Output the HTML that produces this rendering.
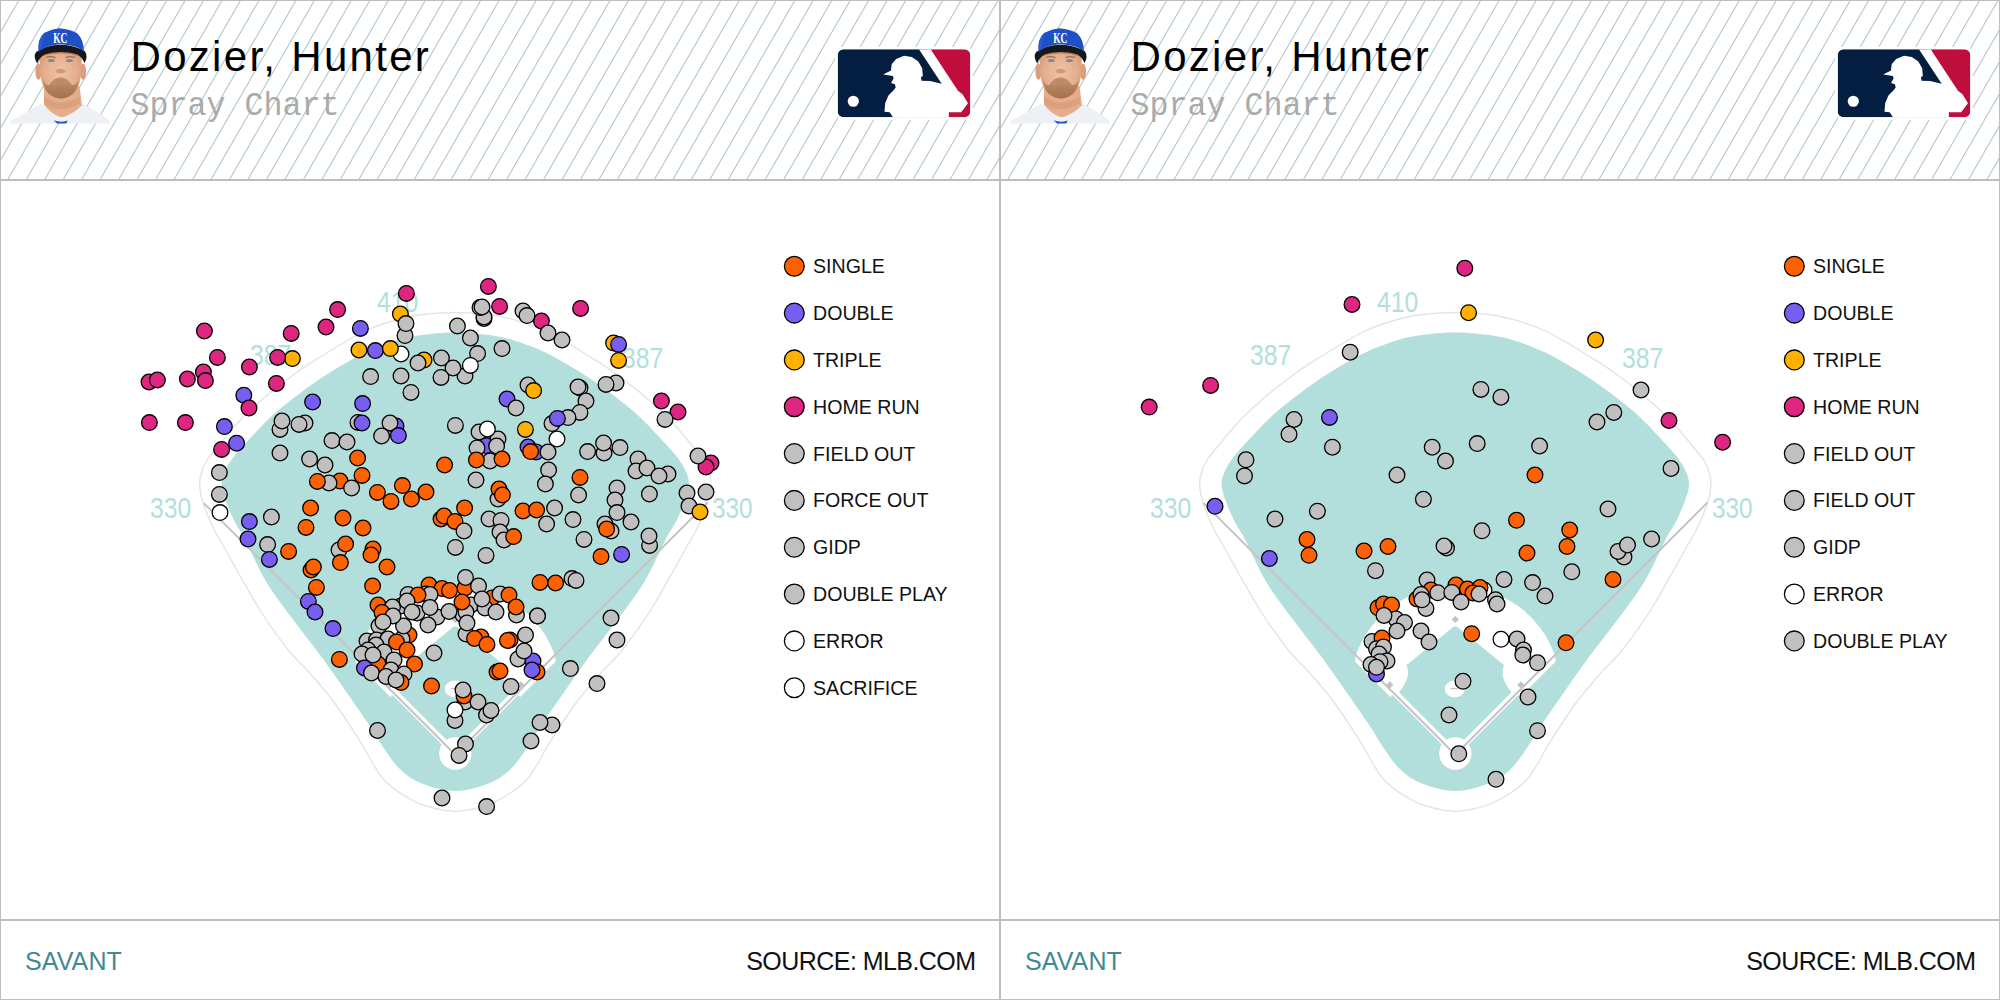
<!DOCTYPE html>
<html><head><meta charset="utf-8"><title>Spray Chart</title>
<style>
html,body{margin:0;padding:0;background:#fff;}
body{width:2000px;height:1000px;position:relative;overflow:hidden;font-family:"Liberation Sans",sans-serif;}
.panel{position:absolute;top:0;width:1000px;height:1000px;box-sizing:border-box;border:1px solid #bdbdbd;border-right-width:1px;background:#fff;overflow:hidden;}
.panel:after{content:"";position:absolute;left:-1px;top:918px;width:1000px;height:2px;background:#bdbdbd;}
.ov{position:absolute;left:-1px;top:-1px;}
.ttl{font-family:"Liberation Sans",sans-serif;font-size:42px;letter-spacing:2.3px;fill:#000;}
.sub{font-family:"Liberation Mono",monospace;font-size:33px;fill:#aaa;}
.dl{font-family:"Liberation Sans",sans-serif;font-size:30px;fill:#b2dfdb;}
.lg{font-family:"Liberation Sans",sans-serif;font-size:19.6px;fill:#111;}
.sav{font-family:"Liberation Sans",sans-serif;font-size:25px;fill:#3f8a93;letter-spacing:0.1px;}
.src{font-family:"Liberation Sans",sans-serif;font-size:25px;fill:#111;letter-spacing:-0.55px;}
</style></head><body>
<div class="panel" style="left:0px">
<svg class="ov" width="1000" height="1000" viewBox="0 0 1000 1000">
<defs><pattern id="hp0" width="16" height="16" patternUnits="userSpaceOnUse" patternTransform="translate(0,0) rotate(30)"><rect x="0.15" y="0" width="0.7" height="16" fill="#85aaaf"/></pattern></defs>
<rect x="0" y="0" width="1000" height="179" fill="url(#hp0)"/>
<rect x="0" y="179" width="1000" height="2" fill="#bdbdbd"/>
<g transform="translate(0,20) scale(0.11)">
<defs>
<filter id="fbl0" x="-5%" y="-5%" width="110%" height="110%"><feGaussianBlur stdDeviation="5"/></filter>
<radialGradient id="fsk0" cx="0.5" cy="0.45" r="0.6"><stop offset="0" stop-color="#f0c3a6"/><stop offset="0.7" stop-color="#e4ac8b"/><stop offset="1" stop-color="#d39875"/></radialGradient>
<linearGradient id="fbd0" x1="0" y1="0" x2="0" y2="1"><stop offset="0" stop-color="#c29470"/><stop offset="0.5" stop-color="#a97852"/><stop offset="1" stop-color="#9a6a45"/></linearGradient>
</defs>
<path d="M92,940 L100,915 Q230,850 372,758 Q550,900 762,762 Q900,845 990,910 L1000,940 Z" fill="#eef0f6"/>
<g filter="url(#fbl0)">
<path d="M398,600 L400,770 Q470,860 560,885 Q660,860 746,775 L722,600 Z" fill="#e5ad8c"/>
<path d="M402,700 Q550,800 720,700 L728,760 Q560,860 402,765Z" fill="#d49572" opacity=".55"/>
<ellipse cx="349" cy="470" rx="27" ry="74" fill="#dd9d7d"/>
<ellipse cx="755" cy="470" rx="27" ry="74" fill="#dd9d7d"/>
<path d="M364,320 Q352,520 400,620 Q466,712 550,714 Q638,712 706,620 Q750,520 740,320 Q550,240 364,320Z" fill="url(#fsk0)"/>
<path d="M388,520 Q398,625 440,668 Q500,714 550,714 Q612,714 668,668 Q708,625 722,520 Q700,600 652,592 Q612,522 550,518 Q488,522 450,592 Q408,600 388,520Z" fill="url(#fbd0)" opacity=".85"/>
<ellipse cx="550" cy="548" rx="56" ry="15" fill="#c7826c"/>
<path d="M500,470 Q550,500 600,470 Q580,440 550,445 Q520,440 500,470Z" fill="#c98d6c" opacity=".8"/>
<ellipse cx="466" cy="368" rx="32" ry="14" fill="#7e8a98"/>
<ellipse cx="632" cy="368" rx="32" ry="14" fill="#7e8a98"/>
<path d="M420,340 Q465,325 505,342 M595,342 Q635,325 680,340" stroke="#9a6b4a" stroke-width="12" fill="none"/>
<path d="M364,335 Q550,275 740,335 L740,300 Q550,240 364,300Z" fill="#a87556" opacity=".75"/>
</g>
<path d="M488,912 Q550,938 614,914 L602,940 L518,940 Z" fill="#1d55c8"/>
<path d="M338,395 Q298,335 328,290 Q420,228 550,224 Q690,228 772,285 Q804,335 768,392 Q745,335 700,312 Q550,268 408,312 Q360,340 338,395Z" fill="#15171c"/>
<path d="M350,292 Q338,170 400,118 Q470,80 540,74 Q640,84 702,120 Q762,180 762,282 Q690,228 550,221 Q420,226 350,292 Z" fill="#1f50c6"/>
<path d="M352,260 Q345,180 400,125 Q380,200 390,262Z" fill="#2a62dc" opacity=".6"/>
<text x="548" y="206" font-family="Liberation Serif,serif" font-weight="bold" font-size="135" fill="#fff" text-anchor="middle" textLength="128" lengthAdjust="spacingAndGlyphs">KC</text>
</g>

<g transform="translate(800,20) scale(0.13)">
<rect x="270" y="205" width="1060" height="562" rx="60" fill="#fff"/>
<clipPath id="lgc0"><rect x="290" y="225" width="1020" height="523" rx="46"/></clipPath>
<g clip-path="url(#lgc0)">
<path d="M290,225H960L1200,560L1000,748H290Z" fill="#041e42"/>
<path d="M960,225H1310V748H1000L1200,560Z" fill="#bf0d3e"/>
<path d="M915,225H1005L1215,545L1250,572L1292,640L1240,710H1145V748H715L690,710L650,705L655,640L680,580L720,540L736,520L730,495L700,485L720,450L715,430L640,420L700,388L705,340L740,300L800,275L860,285L910,320L940,372L945,430L930,440L935,468L1000,470L1090,490Z" fill="#fff"/>
<circle cx="410" cy="625" r="43" fill="#fff"/>
</g>
</g>

<text x="130.5" y="71.4" class="ttl">Dozier, Hunter</text>
<text x="130.5" y="115" class="sub" textLength="209" lengthAdjust="spacingAndGlyphs">Spray Chart</text>
<path d="M455.3 312.5C467.6 312.5 481.8 313.6 492.3 315.0C502.8 316.4 509.8 318.5 518.3 321.0C526.8 323.5 535.1 326.3 543.3 330.0C551.5 333.7 559.3 338.4 567.3 343.0C575.3 347.6 583.6 352.7 591.3 357.5C599.0 362.3 604.5 365.6 613.3 372.0C622.1 378.4 634.8 388.0 644.3 396.0C653.8 404.0 663.0 412.5 670.3 420.0C677.6 427.5 682.6 434.2 688.3 441.0C694.0 447.8 700.7 455.3 704.3 461.0C707.9 466.7 708.7 470.6 709.8 475.0C710.9 479.4 711.2 482.7 710.8 487.5C710.4 492.3 709.7 496.6 707.3 503.7C704.9 510.8 699.5 523.3 696.3 530.0C693.1 536.7 695.8 530.8 688.3 544.0C680.8 557.2 662.3 591.3 651.3 609.0C640.3 626.7 630.8 639.2 622.3 650.0C613.8 660.8 608.1 664.6 600.3 673.6C592.5 682.6 583.6 692.7 575.3 704.0C567.0 715.3 558.3 729.1 550.3 741.6C542.3 754.1 535.9 769.3 527.3 779.0C518.7 788.7 507.5 795.1 498.8 800.0C490.1 804.9 482.6 806.6 475.3 808.5C468.1 810.4 462.0 811.3 455.3 811.3C448.6 811.3 442.6 810.4 435.3 808.5C428.1 806.6 420.5 804.9 411.8 800.0C403.1 795.1 391.9 788.7 383.3 779.0C374.7 769.3 368.3 754.1 360.3 741.6C352.3 729.1 343.6 715.3 335.3 704.0C327.0 692.7 318.1 682.6 310.3 673.6C302.5 664.6 296.8 660.8 288.3 650.0C279.8 639.2 270.3 626.7 259.3 609.0C248.3 591.3 229.8 557.2 222.3 544.0C214.8 530.8 217.5 536.7 214.3 530.0C211.1 523.3 205.7 510.8 203.3 503.7C200.9 496.6 200.2 492.3 199.8 487.5C199.4 482.7 199.7 479.4 200.8 475.0C201.9 470.6 202.7 466.7 206.3 461.0C209.9 455.3 216.6 447.8 222.3 441.0C228.0 434.2 233.0 427.5 240.3 420.0C247.6 412.5 256.8 404.0 266.3 396.0C275.8 388.0 288.5 378.4 297.3 372.0C306.1 365.6 311.6 362.3 319.3 357.5C327.0 352.7 335.3 347.6 343.3 343.0C351.3 338.4 359.1 333.7 367.3 330.0C375.5 326.3 383.8 323.5 392.3 321.0C400.8 318.5 407.8 316.4 418.3 315.0C428.8 313.6 443.0 312.5 455.3 312.5Z" fill="none" stroke="#e3e3e3" stroke-width="1.35"/>
<path d="M455.3 332.5C468.6 332.5 484.5 334.3 495.3 336.0C506.1 337.7 512.0 339.8 520.3 342.5C528.6 345.2 537.3 348.8 545.3 352.5C553.3 356.2 560.5 360.4 568.3 365.0C576.1 369.6 584.3 374.6 592.3 380.0C600.3 385.4 608.3 391.2 616.3 397.5C624.3 403.8 632.3 410.0 640.3 417.5C648.3 425.0 657.8 435.4 664.3 442.5C670.8 449.6 675.5 454.6 679.3 460.0C683.1 465.4 685.7 470.5 687.3 475.0C688.9 479.5 689.3 482.4 688.8 487.0C688.3 491.6 686.5 496.7 684.3 502.5C682.1 508.3 679.0 515.8 675.8 522.0C672.6 528.2 670.5 530.0 665.3 540.0C660.0 550.0 652.3 568.7 644.3 582.0C636.3 595.3 626.5 607.6 617.3 620.0C608.1 632.4 598.0 644.8 589.3 656.6C580.6 668.4 573.2 679.3 565.3 690.6C557.4 701.9 548.3 714.9 541.8 724.6C535.3 734.3 531.7 741.4 526.3 749.0C520.9 756.6 515.8 764.7 509.3 770.5C502.8 776.3 496.3 780.6 487.3 784.0C478.3 787.4 466.0 791.0 455.3 791.0C444.6 791.0 432.3 787.4 423.3 784.0C414.3 780.6 407.8 776.3 401.3 770.5C394.8 764.7 389.7 756.6 384.3 749.0C378.9 741.4 375.3 734.3 368.8 724.6C362.3 714.9 353.2 701.9 345.3 690.6C337.4 679.3 330.0 668.4 321.3 656.6C312.6 644.8 302.5 632.4 293.3 620.0C284.1 607.6 274.3 595.3 266.3 582.0C258.3 568.7 250.6 550.0 245.3 540.0C240.1 530.0 238.0 528.2 234.8 522.0C231.6 515.8 228.5 508.3 226.3 502.5C224.1 496.7 222.3 491.6 221.8 487.0C221.3 482.4 221.7 479.5 223.3 475.0C224.9 470.5 227.5 465.4 231.3 460.0C235.1 454.6 239.8 449.6 246.3 442.5C252.8 435.4 262.3 425.0 270.3 417.5C278.3 410.0 286.3 403.8 294.3 397.5C302.3 391.2 310.3 385.4 318.3 380.0C326.3 374.6 334.5 369.6 342.3 365.0C350.1 360.4 357.3 356.2 365.3 352.5C373.3 348.8 382.0 345.2 390.3 342.5C398.6 339.8 404.5 337.7 415.3 336.0C426.1 334.3 442.0 332.5 455.3 332.5Z" fill="#b2dfdb"/>
<path d="M355.7 656.0 A104.5 100.5 0 0 1 554.9 656.0L555.6 661.6L520.2 697.0L518.2 695.0L455.3 757.9L392.4 695.0L390.4 697.0L355.0 661.6Z" fill="#fff"/>
<path d="M452.3 627.7Q455.3 625.2 458.3 627.7L504.2 665.2Q498.8 677.0 511.6 692.2L464.5 739.5 L446.1 739.5L399.0 692.2Q411.8 677.0 406.4 665.2Z" fill="#b2dfdb"/>
<circle cx="455.3" cy="753.5" r="16.2" fill="#fff"/>
<ellipse cx="454.8" cy="689" rx="10" ry="8.5" fill="#fff"/>
<path d="M450.8 688.6h7" stroke="#c4c4c4" stroke-width="1.2"/>
<path d="M455.3 754.7 L203.8 503.2 M455.3 754.7 L707.6 502.4" stroke="#c4c4c4" stroke-width="2" fill="none"/>
<path d="M455.3 615.8l3.6 3.6l-3.6 3.6l-3.6 -3.6z" fill="#c4c4c4"/>
<path d="M389.8 681.2l3.6 3.6l-3.6 3.6l-3.6 -3.6z" fill="#c4c4c4"/>
<path d="M520.8 681.2l3.6 3.6l-3.6 3.6l-3.6 -3.6z" fill="#c4c4c4"/>
<text x="377.0" y="311.5" textLength="41.3" lengthAdjust="spacingAndGlyphs" class="dl">410</text>
<text x="250.0" y="364.5" textLength="41.3" lengthAdjust="spacingAndGlyphs" class="dl">387</text>
<text x="622.0" y="367.5" textLength="41.3" lengthAdjust="spacingAndGlyphs" class="dl">387</text>
<text x="150.0" y="517.5" textLength="41.3" lengthAdjust="spacingAndGlyphs" class="dl">330</text>
<text x="712.0" y="517.5" textLength="40.5" lengthAdjust="spacingAndGlyphs" class="dl">330</text>
<g stroke="#000" stroke-width="1.3"><circle cx="488.4" cy="286.4" r="7.85" fill="#DC267F"/><circle cx="406.4" cy="293.4" r="7.85" fill="#DC267F"/><circle cx="499.6" cy="306.4" r="7.85" fill="#DC267F"/><circle cx="337.6" cy="309.6" r="7.85" fill="#DC267F"/><circle cx="326.0" cy="327.0" r="7.85" fill="#DC267F"/><circle cx="291.2" cy="333.4" r="7.85" fill="#DC267F"/><circle cx="204.4" cy="331.0" r="7.85" fill="#DC267F"/><circle cx="217.4" cy="357.4" r="7.85" fill="#DC267F"/><circle cx="249.4" cy="367.0" r="7.85" fill="#DC267F"/><circle cx="203.4" cy="372.0" r="7.85" fill="#DC267F"/><circle cx="205.4" cy="380.6" r="7.85" fill="#DC267F"/><circle cx="187.4" cy="379.0" r="7.85" fill="#DC267F"/><circle cx="149.0" cy="382.0" r="7.85" fill="#DC267F"/><circle cx="157.4" cy="380.0" r="7.85" fill="#DC267F"/><circle cx="276.4" cy="383.4" r="7.85" fill="#DC267F"/><circle cx="149.4" cy="422.6" r="7.85" fill="#DC267F"/><circle cx="185.4" cy="422.6" r="7.85" fill="#DC267F"/><circle cx="221.6" cy="449.4" r="7.85" fill="#DC267F"/><circle cx="292.4" cy="358.6" r="7.85" fill="#FFB000"/><circle cx="277.6" cy="357.4" r="7.85" fill="#DC267F"/><circle cx="360.4" cy="328.4" r="7.85" fill="#785EF0"/><circle cx="375.4" cy="350.6" r="7.85" fill="#785EF0"/><circle cx="243.8" cy="395.2" r="7.85" fill="#785EF0"/><circle cx="249.0" cy="408.0" r="7.85" fill="#DC267F"/><circle cx="312.6" cy="402.0" r="7.85" fill="#785EF0"/><circle cx="362.6" cy="403.6" r="7.85" fill="#785EF0"/><circle cx="224.4" cy="426.6" r="7.85" fill="#785EF0"/><circle cx="236.6" cy="443.2" r="7.85" fill="#785EF0"/><circle cx="507.0" cy="399.0" r="7.85" fill="#785EF0"/><circle cx="358.0" cy="422.4" r="7.85" fill="#C0C0C0"/><circle cx="362.0" cy="423.0" r="7.85" fill="#785EF0"/><circle cx="396.0" cy="426.0" r="7.85" fill="#785EF0"/><circle cx="390.0" cy="423.0" r="7.85" fill="#C0C0C0"/><circle cx="381.6" cy="436.0" r="7.85" fill="#C0C0C0"/><circle cx="398.4" cy="435.6" r="7.85" fill="#785EF0"/><circle cx="400.4" cy="314.0" r="7.85" fill="#FFB000"/><circle cx="405.0" cy="335.6" r="7.85" fill="#C0C0C0"/><circle cx="406.0" cy="323.6" r="7.85" fill="#C0C0C0"/><circle cx="359.0" cy="350.0" r="7.85" fill="#FFB000"/><circle cx="401.0" cy="354.0" r="7.85" fill="#FFFFFF"/><circle cx="390.4" cy="348.6" r="7.85" fill="#FFB000"/><circle cx="424.0" cy="360.0" r="7.85" fill="#FFB000"/><circle cx="418.0" cy="363.0" r="7.85" fill="#C0C0C0"/><circle cx="484.0" cy="318.5" r="7.85" fill="#C0C0C0"/><circle cx="484.0" cy="317.0" r="7.85" fill="#C0C0C0"/><circle cx="480.0" cy="307.6" r="7.85" fill="#C0C0C0"/><circle cx="482.0" cy="307.0" r="7.85" fill="#C0C0C0"/><circle cx="457.4" cy="326.0" r="7.85" fill="#C0C0C0"/><circle cx="470.4" cy="338.0" r="7.85" fill="#C0C0C0"/><circle cx="477.6" cy="353.6" r="7.85" fill="#C0C0C0"/><circle cx="502.0" cy="348.6" r="7.85" fill="#C0C0C0"/><circle cx="441.4" cy="358.0" r="7.85" fill="#C0C0C0"/><circle cx="465.0" cy="376.0" r="7.85" fill="#C0C0C0"/><circle cx="453.0" cy="368.0" r="7.85" fill="#C0C0C0"/><circle cx="441.0" cy="377.4" r="7.85" fill="#C0C0C0"/><circle cx="401.0" cy="376.0" r="7.85" fill="#C0C0C0"/><circle cx="370.6" cy="376.6" r="7.85" fill="#C0C0C0"/><circle cx="411.0" cy="392.4" r="7.85" fill="#C0C0C0"/><circle cx="516.0" cy="408.0" r="7.85" fill="#C0C0C0"/><circle cx="470.4" cy="365.4" r="7.85" fill="#FFFFFF"/><circle cx="280.0" cy="429.4" r="7.85" fill="#C0C0C0"/><circle cx="282.0" cy="421.0" r="7.85" fill="#C0C0C0"/><circle cx="305.0" cy="423.0" r="7.85" fill="#C0C0C0"/><circle cx="299.0" cy="424.4" r="7.85" fill="#C0C0C0"/><circle cx="455.4" cy="425.4" r="7.85" fill="#C0C0C0"/><circle cx="332.0" cy="440.6" r="7.85" fill="#C0C0C0"/><circle cx="347.0" cy="442.0" r="7.85" fill="#C0C0C0"/><circle cx="280.0" cy="453.0" r="7.85" fill="#C0C0C0"/><circle cx="309.6" cy="459.0" r="7.85" fill="#C0C0C0"/><circle cx="325.0" cy="465.0" r="7.85" fill="#C0C0C0"/><circle cx="486.4" cy="445.6" r="7.85" fill="#785EF0"/><circle cx="479.0" cy="432.0" r="7.85" fill="#C0C0C0"/><circle cx="498.0" cy="439.0" r="7.85" fill="#C0C0C0"/><circle cx="487.4" cy="429.0" r="7.85" fill="#FFFFFF"/><circle cx="477.0" cy="448.0" r="7.85" fill="#C0C0C0"/><circle cx="496.6" cy="446.0" r="7.85" fill="#C0C0C0"/><circle cx="490.0" cy="461.0" r="7.85" fill="#C0C0C0"/><circle cx="476.4" cy="460.0" r="7.85" fill="#FE6100"/><circle cx="502.0" cy="459.0" r="7.85" fill="#FE6100"/><circle cx="357.6" cy="458.0" r="7.85" fill="#FE6100"/><circle cx="444.6" cy="465.0" r="7.85" fill="#FE6100"/><circle cx="580.6" cy="308.4" r="7.85" fill="#DC267F"/><circle cx="541.4" cy="321.0" r="7.85" fill="#DC267F"/><circle cx="661.4" cy="401.0" r="7.85" fill="#DC267F"/><circle cx="678.0" cy="412.0" r="7.85" fill="#DC267F"/><circle cx="711.0" cy="463.0" r="7.85" fill="#DC267F"/><circle cx="706.0" cy="467.0" r="7.85" fill="#DC267F"/><circle cx="523.0" cy="311.0" r="7.85" fill="#C0C0C0"/><circle cx="527.0" cy="315.6" r="7.85" fill="#C0C0C0"/><circle cx="548.0" cy="333.0" r="7.85" fill="#C0C0C0"/><circle cx="562.0" cy="340.0" r="7.85" fill="#C0C0C0"/><circle cx="528.0" cy="385.0" r="7.85" fill="#C0C0C0"/><circle cx="533.6" cy="390.6" r="7.85" fill="#FFB000"/><circle cx="580.0" cy="388.0" r="7.85" fill="#C0C0C0"/><circle cx="578.0" cy="387.0" r="7.85" fill="#C0C0C0"/><circle cx="586.0" cy="401.0" r="7.85" fill="#C0C0C0"/><circle cx="580.0" cy="412.4" r="7.85" fill="#C0C0C0"/><circle cx="568.0" cy="417.6" r="7.85" fill="#C0C0C0"/><circle cx="552.0" cy="423.6" r="7.85" fill="#C0C0C0"/><circle cx="557.4" cy="418.4" r="7.85" fill="#785EF0"/><circle cx="616.0" cy="383.0" r="7.85" fill="#C0C0C0"/><circle cx="606.0" cy="384.4" r="7.85" fill="#C0C0C0"/><circle cx="665.0" cy="419.4" r="7.85" fill="#C0C0C0"/><circle cx="587.6" cy="451.6" r="7.85" fill="#C0C0C0"/><circle cx="604.0" cy="453.0" r="7.85" fill="#C0C0C0"/><circle cx="603.6" cy="443.0" r="7.85" fill="#C0C0C0"/><circle cx="620.0" cy="447.6" r="7.85" fill="#C0C0C0"/><circle cx="638.0" cy="459.0" r="7.85" fill="#C0C0C0"/><circle cx="698.0" cy="456.0" r="7.85" fill="#C0C0C0"/><circle cx="613.6" cy="343.0" r="7.85" fill="#FFB000"/><circle cx="618.6" cy="344.4" r="7.85" fill="#785EF0"/><circle cx="618.6" cy="360.4" r="7.85" fill="#FFB000"/><circle cx="525.4" cy="429.4" r="7.85" fill="#FFB000"/><circle cx="557.0" cy="439.0" r="7.85" fill="#FFFFFF"/><circle cx="528.0" cy="447.0" r="7.85" fill="#785EF0"/><circle cx="536.0" cy="452.0" r="7.85" fill="#785EF0"/><circle cx="530.6" cy="451.6" r="7.85" fill="#FE6100"/><circle cx="548.0" cy="452.0" r="7.85" fill="#C0C0C0"/><circle cx="219.4" cy="472.6" r="7.85" fill="#C0C0C0"/><circle cx="219.4" cy="494.4" r="7.85" fill="#C0C0C0"/><circle cx="220.0" cy="512.6" r="7.85" fill="#FFFFFF"/><circle cx="340.0" cy="481.0" r="7.85" fill="#FE6100"/><circle cx="329.0" cy="483.0" r="7.85" fill="#C0C0C0"/><circle cx="317.4" cy="481.4" r="7.85" fill="#FE6100"/><circle cx="351.6" cy="488.0" r="7.85" fill="#C0C0C0"/><circle cx="362.0" cy="475.4" r="7.85" fill="#FE6100"/><circle cx="271.4" cy="517.0" r="7.85" fill="#C0C0C0"/><circle cx="267.6" cy="544.6" r="7.85" fill="#C0C0C0"/><circle cx="339.0" cy="550.0" r="7.85" fill="#C0C0C0"/><circle cx="345.6" cy="544.0" r="7.85" fill="#FE6100"/><circle cx="476.0" cy="480.0" r="7.85" fill="#C0C0C0"/><circle cx="498.0" cy="499.0" r="7.85" fill="#C0C0C0"/><circle cx="499.0" cy="489.0" r="7.85" fill="#FE6100"/><circle cx="502.4" cy="495.0" r="7.85" fill="#FE6100"/><circle cx="441.0" cy="519.0" r="7.85" fill="#FE6100"/><circle cx="444.0" cy="516.0" r="7.85" fill="#FE6100"/><circle cx="455.0" cy="521.4" r="7.85" fill="#FE6100"/><circle cx="489.0" cy="519.0" r="7.85" fill="#C0C0C0"/><circle cx="501.0" cy="520.4" r="7.85" fill="#C0C0C0"/><circle cx="464.0" cy="531.0" r="7.85" fill="#C0C0C0"/><circle cx="500.0" cy="532.0" r="7.85" fill="#C0C0C0"/><circle cx="504.0" cy="540.0" r="7.85" fill="#C0C0C0"/><circle cx="513.6" cy="536.6" r="7.85" fill="#FE6100"/><circle cx="455.4" cy="547.4" r="7.85" fill="#C0C0C0"/><circle cx="486.0" cy="555.4" r="7.85" fill="#C0C0C0"/><circle cx="249.4" cy="521.6" r="7.85" fill="#785EF0"/><circle cx="248.0" cy="539.0" r="7.85" fill="#785EF0"/><circle cx="269.4" cy="559.4" r="7.85" fill="#785EF0"/><circle cx="308.4" cy="601.4" r="7.85" fill="#785EF0"/><circle cx="315.0" cy="612.0" r="7.85" fill="#785EF0"/><circle cx="333.0" cy="628.6" r="7.85" fill="#785EF0"/><circle cx="377.4" cy="492.4" r="7.85" fill="#FE6100"/><circle cx="402.4" cy="485.6" r="7.85" fill="#FE6100"/><circle cx="426.0" cy="492.0" r="7.85" fill="#FE6100"/><circle cx="391.0" cy="501.4" r="7.85" fill="#FE6100"/><circle cx="411.4" cy="499.0" r="7.85" fill="#FE6100"/><circle cx="310.6" cy="508.0" r="7.85" fill="#FE6100"/><circle cx="343.0" cy="518.0" r="7.85" fill="#FE6100"/><circle cx="306.0" cy="527.4" r="7.85" fill="#FE6100"/><circle cx="363.0" cy="528.0" r="7.85" fill="#FE6100"/><circle cx="464.6" cy="508.0" r="7.85" fill="#FE6100"/><circle cx="288.6" cy="551.4" r="7.85" fill="#FE6100"/><circle cx="373.0" cy="549.0" r="7.85" fill="#FE6100"/><circle cx="371.0" cy="555.0" r="7.85" fill="#FE6100"/><circle cx="340.4" cy="562.6" r="7.85" fill="#FE6100"/><circle cx="387.0" cy="567.0" r="7.85" fill="#FE6100"/><circle cx="311.0" cy="570.0" r="7.85" fill="#FE6100"/><circle cx="313.4" cy="567.0" r="7.85" fill="#FE6100"/><circle cx="316.4" cy="587.4" r="7.85" fill="#FE6100"/><circle cx="372.6" cy="586.0" r="7.85" fill="#FE6100"/><circle cx="548.6" cy="470.0" r="7.85" fill="#C0C0C0"/><circle cx="545.4" cy="484.0" r="7.85" fill="#C0C0C0"/><circle cx="578.6" cy="495.0" r="7.85" fill="#C0C0C0"/><circle cx="617.0" cy="488.0" r="7.85" fill="#C0C0C0"/><circle cx="615.0" cy="500.0" r="7.85" fill="#C0C0C0"/><circle cx="617.0" cy="512.6" r="7.85" fill="#C0C0C0"/><circle cx="649.4" cy="494.0" r="7.85" fill="#C0C0C0"/><circle cx="636.0" cy="471.0" r="7.85" fill="#C0C0C0"/><circle cx="647.0" cy="468.0" r="7.85" fill="#C0C0C0"/><circle cx="668.0" cy="474.0" r="7.85" fill="#C0C0C0"/><circle cx="659.0" cy="476.0" r="7.85" fill="#C0C0C0"/><circle cx="687.0" cy="493.0" r="7.85" fill="#C0C0C0"/><circle cx="706.0" cy="492.0" r="7.85" fill="#C0C0C0"/><circle cx="689.0" cy="506.0" r="7.85" fill="#C0C0C0"/><circle cx="700.0" cy="512.0" r="7.85" fill="#FFB000"/><circle cx="554.6" cy="508.0" r="7.85" fill="#C0C0C0"/><circle cx="546.6" cy="524.0" r="7.85" fill="#C0C0C0"/><circle cx="573.0" cy="519.6" r="7.85" fill="#C0C0C0"/><circle cx="631.0" cy="522.0" r="7.85" fill="#C0C0C0"/><circle cx="605.0" cy="524.0" r="7.85" fill="#C0C0C0"/><circle cx="611.0" cy="531.0" r="7.85" fill="#C0C0C0"/><circle cx="606.6" cy="529.0" r="7.85" fill="#FE6100"/><circle cx="584.0" cy="539.4" r="7.85" fill="#C0C0C0"/><circle cx="649.6" cy="545.4" r="7.85" fill="#C0C0C0"/><circle cx="649.0" cy="536.0" r="7.85" fill="#C0C0C0"/><circle cx="572.0" cy="578.6" r="7.85" fill="#C0C0C0"/><circle cx="576.0" cy="580.4" r="7.85" fill="#C0C0C0"/><circle cx="537.4" cy="616.0" r="7.85" fill="#C0C0C0"/><circle cx="611.0" cy="618.0" r="7.85" fill="#C0C0C0"/><circle cx="617.0" cy="640.0" r="7.85" fill="#C0C0C0"/><circle cx="580.0" cy="477.4" r="7.85" fill="#FE6100"/><circle cx="523.0" cy="511.0" r="7.85" fill="#FE6100"/><circle cx="536.6" cy="510.0" r="7.85" fill="#FE6100"/><circle cx="601.0" cy="556.6" r="7.85" fill="#FE6100"/><circle cx="540.0" cy="582.4" r="7.85" fill="#FE6100"/><circle cx="555.6" cy="583.0" r="7.85" fill="#FE6100"/><circle cx="621.6" cy="554.4" r="7.85" fill="#785EF0"/><circle cx="429.0" cy="585.0" r="7.85" fill="#FE6100"/><circle cx="442.0" cy="588.5" r="7.85" fill="#FE6100"/><circle cx="465.0" cy="588.0" r="7.85" fill="#FE6100"/><circle cx="492.0" cy="598.0" r="7.85" fill="#FE6100"/><circle cx="378.0" cy="605.0" r="7.85" fill="#FE6100"/><circle cx="409.0" cy="635.0" r="7.85" fill="#FE6100"/><circle cx="481.0" cy="637.0" r="7.85" fill="#FE6100"/><circle cx="510.0" cy="640.0" r="7.85" fill="#FE6100"/><circle cx="408.0" cy="594.5" r="7.85" fill="#C0C0C0"/><circle cx="426.0" cy="594.0" r="7.85" fill="#C0C0C0"/><circle cx="500.0" cy="594.0" r="7.85" fill="#C0C0C0"/><circle cx="401.0" cy="606.0" r="7.85" fill="#C0C0C0"/><circle cx="417.0" cy="613.0" r="7.85" fill="#C0C0C0"/><circle cx="463.0" cy="615.0" r="7.85" fill="#C0C0C0"/><circle cx="471.0" cy="605.0" r="7.85" fill="#C0C0C0"/><circle cx="485.0" cy="608.0" r="7.85" fill="#C0C0C0"/><circle cx="516.5" cy="615.0" r="7.85" fill="#C0C0C0"/><circle cx="437.0" cy="617.0" r="7.85" fill="#C0C0C0"/><circle cx="379.0" cy="626.0" r="7.85" fill="#C0C0C0"/><circle cx="466.0" cy="634.0" r="7.85" fill="#C0C0C0"/><circle cx="402.0" cy="639.0" r="7.85" fill="#C0C0C0"/><circle cx="518.0" cy="659.0" r="7.85" fill="#C0C0C0"/><circle cx="367.0" cy="659.0" r="7.85" fill="#785EF0"/><circle cx="533.0" cy="661.0" r="7.85" fill="#785EF0"/><circle cx="465.5" cy="577.5" r="7.85" fill="#C0C0C0"/><circle cx="478.5" cy="586.0" r="7.85" fill="#C0C0C0"/><circle cx="449.5" cy="590.5" r="7.85" fill="#FE6100"/><circle cx="430.0" cy="594.5" r="7.85" fill="#C0C0C0"/><circle cx="418.0" cy="595.0" r="7.85" fill="#FE6100"/><circle cx="407.0" cy="601.0" r="7.85" fill="#C0C0C0"/><circle cx="482.0" cy="599.0" r="7.85" fill="#C0C0C0"/><circle cx="509.0" cy="595.0" r="7.85" fill="#FE6100"/><circle cx="516.0" cy="607.0" r="7.85" fill="#FE6100"/><circle cx="392.5" cy="607.0" r="7.85" fill="#C0C0C0"/><circle cx="382.0" cy="612.5" r="7.85" fill="#FE6100"/><circle cx="430.0" cy="607.5" r="7.85" fill="#C0C0C0"/><circle cx="412.0" cy="612.0" r="7.85" fill="#C0C0C0"/><circle cx="449.0" cy="611.5" r="7.85" fill="#C0C0C0"/><circle cx="466.0" cy="612.0" r="7.85" fill="#C0C0C0"/><circle cx="462.0" cy="602.0" r="7.85" fill="#FE6100"/><circle cx="467.0" cy="623.0" r="7.85" fill="#C0C0C0"/><circle cx="496.0" cy="612.0" r="7.85" fill="#C0C0C0"/><circle cx="537.5" cy="616.0" r="7.85" fill="#C0C0C0"/><circle cx="428.0" cy="625.0" r="7.85" fill="#C0C0C0"/><circle cx="403.5" cy="626.0" r="7.85" fill="#C0C0C0"/><circle cx="393.0" cy="616.0" r="7.85" fill="#C0C0C0"/><circle cx="383.0" cy="622.0" r="7.85" fill="#C0C0C0"/><circle cx="525.5" cy="635.0" r="7.85" fill="#C0C0C0"/><circle cx="474.5" cy="638.5" r="7.85" fill="#FE6100"/><circle cx="487.0" cy="644.5" r="7.85" fill="#FE6100"/><circle cx="507.5" cy="640.5" r="7.85" fill="#FE6100"/><circle cx="524.0" cy="651.0" r="7.85" fill="#C0C0C0"/><circle cx="367.0" cy="641.0" r="7.85" fill="#C0C0C0"/><circle cx="376.5" cy="640.0" r="7.85" fill="#C0C0C0"/><circle cx="388.0" cy="639.0" r="7.85" fill="#C0C0C0"/><circle cx="396.5" cy="642.0" r="7.85" fill="#FE6100"/><circle cx="407.0" cy="650.0" r="7.85" fill="#FE6100"/><circle cx="376.0" cy="645.0" r="7.85" fill="#C0C0C0"/><circle cx="368.0" cy="650.0" r="7.85" fill="#C0C0C0"/><circle cx="362.0" cy="654.0" r="7.85" fill="#C0C0C0"/><circle cx="384.0" cy="652.0" r="7.85" fill="#C0C0C0"/><circle cx="378.0" cy="664.0" r="7.85" fill="#FE6100"/><circle cx="373.0" cy="655.0" r="7.85" fill="#C0C0C0"/><circle cx="394.0" cy="660.0" r="7.85" fill="#C0C0C0"/><circle cx="364.5" cy="668.0" r="7.85" fill="#785EF0"/><circle cx="414.5" cy="664.0" r="7.85" fill="#FE6100"/><circle cx="434.0" cy="653.0" r="7.85" fill="#C0C0C0"/><circle cx="391.0" cy="670.0" r="7.85" fill="#C0C0C0"/><circle cx="371.5" cy="673.0" r="7.85" fill="#C0C0C0"/><circle cx="404.0" cy="674.0" r="7.85" fill="#C0C0C0"/><circle cx="401.0" cy="682.5" r="7.85" fill="#FE6100"/><circle cx="386.0" cy="676.5" r="7.85" fill="#C0C0C0"/><circle cx="396.0" cy="680.0" r="7.85" fill="#C0C0C0"/><circle cx="431.5" cy="686.0" r="7.85" fill="#FE6100"/><circle cx="497.0" cy="672.0" r="7.85" fill="#FE6100"/><circle cx="500.0" cy="671.0" r="7.85" fill="#FE6100"/><circle cx="537.0" cy="672.0" r="7.85" fill="#FE6100"/><circle cx="532.0" cy="670.0" r="7.85" fill="#785EF0"/><circle cx="511.0" cy="686.5" r="7.85" fill="#C0C0C0"/><circle cx="465.0" cy="702.0" r="7.85" fill="#C0C0C0"/><circle cx="464.0" cy="696.0" r="7.85" fill="#FE6100"/><circle cx="463.0" cy="690.0" r="7.85" fill="#C0C0C0"/><circle cx="478.0" cy="702.0" r="7.85" fill="#C0C0C0"/><circle cx="486.5" cy="715.0" r="7.85" fill="#C0C0C0"/><circle cx="491.0" cy="710.5" r="7.85" fill="#C0C0C0"/><circle cx="455.0" cy="720.5" r="7.85" fill="#C0C0C0"/><circle cx="455.0" cy="710.0" r="7.85" fill="#FFFFFF"/><circle cx="377.5" cy="730.5" r="7.85" fill="#C0C0C0"/><circle cx="552.0" cy="725.0" r="7.85" fill="#C0C0C0"/><circle cx="540.0" cy="722.5" r="7.85" fill="#C0C0C0"/><circle cx="531.0" cy="741.0" r="7.85" fill="#C0C0C0"/><circle cx="465.5" cy="744.0" r="7.85" fill="#C0C0C0"/><circle cx="459.0" cy="755.4" r="7.85" fill="#C0C0C0"/><circle cx="442.0" cy="798.0" r="7.85" fill="#C0C0C0"/><circle cx="486.6" cy="806.6" r="7.85" fill="#C0C0C0"/><circle cx="570.4" cy="668.6" r="7.85" fill="#C0C0C0"/><circle cx="597.0" cy="683.6" r="7.85" fill="#C0C0C0"/><circle cx="339.4" cy="659.4" r="7.85" fill="#FE6100"/></g>
<circle cx="794.3" cy="266.3" r="9.9" fill="#FE6100" stroke="#000" stroke-width="1.3"/>
<text x="813" y="273.3" class="lg">SINGLE</text>
<circle cx="794.3" cy="313.1" r="9.9" fill="#785EF0" stroke="#000" stroke-width="1.3"/>
<text x="813" y="320.1" class="lg">DOUBLE</text>
<circle cx="794.3" cy="359.9" r="9.9" fill="#FFB000" stroke="#000" stroke-width="1.3"/>
<text x="813" y="366.9" class="lg">TRIPLE</text>
<circle cx="794.3" cy="406.8" r="9.9" fill="#DC267F" stroke="#000" stroke-width="1.3"/>
<text x="813" y="413.8" class="lg">HOME RUN</text>
<circle cx="794.3" cy="453.6" r="9.9" fill="#C0C0C0" stroke="#000" stroke-width="1.3"/>
<text x="813" y="460.6" class="lg">FIELD OUT</text>
<circle cx="794.3" cy="500.4" r="9.9" fill="#C0C0C0" stroke="#000" stroke-width="1.3"/>
<text x="813" y="507.4" class="lg">FORCE OUT</text>
<circle cx="794.3" cy="547.2" r="9.9" fill="#C0C0C0" stroke="#000" stroke-width="1.3"/>
<text x="813" y="554.2" class="lg">GIDP</text>
<circle cx="794.3" cy="594.0" r="9.9" fill="#C0C0C0" stroke="#000" stroke-width="1.3"/>
<text x="813" y="601.0" class="lg">DOUBLE PLAY</text>
<circle cx="794.3" cy="640.9" r="9.9" fill="#FFFFFF" stroke="#000" stroke-width="1.3"/>
<text x="813" y="647.9" class="lg">ERROR</text>
<circle cx="794.3" cy="687.7" r="9.9" fill="#FFFFFF" stroke="#000" stroke-width="1.3"/>
<text x="813" y="694.7" class="lg">SACRIFICE</text>
<text x="25" y="970.3" class="sav">SAVANT</text>
<text x="975.5" y="970.3" class="src" text-anchor="end">SOURCE: MLB.COM</text>
</svg>
</div>
<div class="panel" style="left:1000px">
<svg class="ov" width="1000" height="1000" viewBox="0 0 1000 1000">
<defs><pattern id="hp1" width="16" height="16" patternUnits="userSpaceOnUse" patternTransform="translate(0,0) rotate(30)"><rect x="0.15" y="0" width="0.7" height="16" fill="#85aaaf"/></pattern></defs>
<rect x="0" y="0" width="1000" height="179" fill="url(#hp1)"/>
<rect x="0" y="179" width="1000" height="2" fill="#bdbdbd"/>
<g transform="translate(0,20) scale(0.11)">
<defs>
<filter id="fbl1" x="-5%" y="-5%" width="110%" height="110%"><feGaussianBlur stdDeviation="5"/></filter>
<radialGradient id="fsk1" cx="0.5" cy="0.45" r="0.6"><stop offset="0" stop-color="#f0c3a6"/><stop offset="0.7" stop-color="#e4ac8b"/><stop offset="1" stop-color="#d39875"/></radialGradient>
<linearGradient id="fbd1" x1="0" y1="0" x2="0" y2="1"><stop offset="0" stop-color="#c29470"/><stop offset="0.5" stop-color="#a97852"/><stop offset="1" stop-color="#9a6a45"/></linearGradient>
</defs>
<path d="M92,940 L100,915 Q230,850 372,758 Q550,900 762,762 Q900,845 990,910 L1000,940 Z" fill="#eef0f6"/>
<g filter="url(#fbl1)">
<path d="M398,600 L400,770 Q470,860 560,885 Q660,860 746,775 L722,600 Z" fill="#e5ad8c"/>
<path d="M402,700 Q550,800 720,700 L728,760 Q560,860 402,765Z" fill="#d49572" opacity=".55"/>
<ellipse cx="349" cy="470" rx="27" ry="74" fill="#dd9d7d"/>
<ellipse cx="755" cy="470" rx="27" ry="74" fill="#dd9d7d"/>
<path d="M364,320 Q352,520 400,620 Q466,712 550,714 Q638,712 706,620 Q750,520 740,320 Q550,240 364,320Z" fill="url(#fsk1)"/>
<path d="M388,520 Q398,625 440,668 Q500,714 550,714 Q612,714 668,668 Q708,625 722,520 Q700,600 652,592 Q612,522 550,518 Q488,522 450,592 Q408,600 388,520Z" fill="url(#fbd1)" opacity=".85"/>
<ellipse cx="550" cy="548" rx="56" ry="15" fill="#c7826c"/>
<path d="M500,470 Q550,500 600,470 Q580,440 550,445 Q520,440 500,470Z" fill="#c98d6c" opacity=".8"/>
<ellipse cx="466" cy="368" rx="32" ry="14" fill="#7e8a98"/>
<ellipse cx="632" cy="368" rx="32" ry="14" fill="#7e8a98"/>
<path d="M420,340 Q465,325 505,342 M595,342 Q635,325 680,340" stroke="#9a6b4a" stroke-width="12" fill="none"/>
<path d="M364,335 Q550,275 740,335 L740,300 Q550,240 364,300Z" fill="#a87556" opacity=".75"/>
</g>
<path d="M488,912 Q550,938 614,914 L602,940 L518,940 Z" fill="#1d55c8"/>
<path d="M338,395 Q298,335 328,290 Q420,228 550,224 Q690,228 772,285 Q804,335 768,392 Q745,335 700,312 Q550,268 408,312 Q360,340 338,395Z" fill="#15171c"/>
<path d="M350,292 Q338,170 400,118 Q470,80 540,74 Q640,84 702,120 Q762,180 762,282 Q690,228 550,221 Q420,226 350,292 Z" fill="#1f50c6"/>
<path d="M352,260 Q345,180 400,125 Q380,200 390,262Z" fill="#2a62dc" opacity=".6"/>
<text x="548" y="206" font-family="Liberation Serif,serif" font-weight="bold" font-size="135" fill="#fff" text-anchor="middle" textLength="128" lengthAdjust="spacingAndGlyphs">KC</text>
</g>

<g transform="translate(800,20) scale(0.13)">
<rect x="270" y="205" width="1060" height="562" rx="60" fill="#fff"/>
<clipPath id="lgc1"><rect x="290" y="225" width="1020" height="523" rx="46"/></clipPath>
<g clip-path="url(#lgc1)">
<path d="M290,225H960L1200,560L1000,748H290Z" fill="#041e42"/>
<path d="M960,225H1310V748H1000L1200,560Z" fill="#bf0d3e"/>
<path d="M915,225H1005L1215,545L1250,572L1292,640L1240,710H1145V748H715L690,710L650,705L655,640L680,580L720,540L736,520L730,495L700,485L720,450L715,430L640,420L700,388L705,340L740,300L800,275L860,285L910,320L940,372L945,430L930,440L935,468L1000,470L1090,490Z" fill="#fff"/>
<circle cx="410" cy="625" r="43" fill="#fff"/>
</g>
</g>

<text x="130.5" y="71.4" class="ttl">Dozier, Hunter</text>
<text x="130.5" y="115" class="sub" textLength="209" lengthAdjust="spacingAndGlyphs">Spray Chart</text>
<path d="M455.3 312.5C467.6 312.5 481.8 313.6 492.3 315.0C502.8 316.4 509.8 318.5 518.3 321.0C526.8 323.5 535.1 326.3 543.3 330.0C551.5 333.7 559.3 338.4 567.3 343.0C575.3 347.6 583.6 352.7 591.3 357.5C599.0 362.3 604.5 365.6 613.3 372.0C622.1 378.4 634.8 388.0 644.3 396.0C653.8 404.0 663.0 412.5 670.3 420.0C677.6 427.5 682.6 434.2 688.3 441.0C694.0 447.8 700.7 455.3 704.3 461.0C707.9 466.7 708.7 470.6 709.8 475.0C710.9 479.4 711.2 482.7 710.8 487.5C710.4 492.3 709.7 496.6 707.3 503.7C704.9 510.8 699.5 523.3 696.3 530.0C693.1 536.7 695.8 530.8 688.3 544.0C680.8 557.2 662.3 591.3 651.3 609.0C640.3 626.7 630.8 639.2 622.3 650.0C613.8 660.8 608.1 664.6 600.3 673.6C592.5 682.6 583.6 692.7 575.3 704.0C567.0 715.3 558.3 729.1 550.3 741.6C542.3 754.1 535.9 769.3 527.3 779.0C518.7 788.7 507.5 795.1 498.8 800.0C490.1 804.9 482.6 806.6 475.3 808.5C468.1 810.4 462.0 811.3 455.3 811.3C448.6 811.3 442.6 810.4 435.3 808.5C428.1 806.6 420.5 804.9 411.8 800.0C403.1 795.1 391.9 788.7 383.3 779.0C374.7 769.3 368.3 754.1 360.3 741.6C352.3 729.1 343.6 715.3 335.3 704.0C327.0 692.7 318.1 682.6 310.3 673.6C302.5 664.6 296.8 660.8 288.3 650.0C279.8 639.2 270.3 626.7 259.3 609.0C248.3 591.3 229.8 557.2 222.3 544.0C214.8 530.8 217.5 536.7 214.3 530.0C211.1 523.3 205.7 510.8 203.3 503.7C200.9 496.6 200.2 492.3 199.8 487.5C199.4 482.7 199.7 479.4 200.8 475.0C201.9 470.6 202.7 466.7 206.3 461.0C209.9 455.3 216.6 447.8 222.3 441.0C228.0 434.2 233.0 427.5 240.3 420.0C247.6 412.5 256.8 404.0 266.3 396.0C275.8 388.0 288.5 378.4 297.3 372.0C306.1 365.6 311.6 362.3 319.3 357.5C327.0 352.7 335.3 347.6 343.3 343.0C351.3 338.4 359.1 333.7 367.3 330.0C375.5 326.3 383.8 323.5 392.3 321.0C400.8 318.5 407.8 316.4 418.3 315.0C428.8 313.6 443.0 312.5 455.3 312.5Z" fill="none" stroke="#e3e3e3" stroke-width="1.35"/>
<path d="M455.3 332.5C468.6 332.5 484.5 334.3 495.3 336.0C506.1 337.7 512.0 339.8 520.3 342.5C528.6 345.2 537.3 348.8 545.3 352.5C553.3 356.2 560.5 360.4 568.3 365.0C576.1 369.6 584.3 374.6 592.3 380.0C600.3 385.4 608.3 391.2 616.3 397.5C624.3 403.8 632.3 410.0 640.3 417.5C648.3 425.0 657.8 435.4 664.3 442.5C670.8 449.6 675.5 454.6 679.3 460.0C683.1 465.4 685.7 470.5 687.3 475.0C688.9 479.5 689.3 482.4 688.8 487.0C688.3 491.6 686.5 496.7 684.3 502.5C682.1 508.3 679.0 515.8 675.8 522.0C672.6 528.2 670.5 530.0 665.3 540.0C660.0 550.0 652.3 568.7 644.3 582.0C636.3 595.3 626.5 607.6 617.3 620.0C608.1 632.4 598.0 644.8 589.3 656.6C580.6 668.4 573.2 679.3 565.3 690.6C557.4 701.9 548.3 714.9 541.8 724.6C535.3 734.3 531.7 741.4 526.3 749.0C520.9 756.6 515.8 764.7 509.3 770.5C502.8 776.3 496.3 780.6 487.3 784.0C478.3 787.4 466.0 791.0 455.3 791.0C444.6 791.0 432.3 787.4 423.3 784.0C414.3 780.6 407.8 776.3 401.3 770.5C394.8 764.7 389.7 756.6 384.3 749.0C378.9 741.4 375.3 734.3 368.8 724.6C362.3 714.9 353.2 701.9 345.3 690.6C337.4 679.3 330.0 668.4 321.3 656.6C312.6 644.8 302.5 632.4 293.3 620.0C284.1 607.6 274.3 595.3 266.3 582.0C258.3 568.7 250.6 550.0 245.3 540.0C240.1 530.0 238.0 528.2 234.8 522.0C231.6 515.8 228.5 508.3 226.3 502.5C224.1 496.7 222.3 491.6 221.8 487.0C221.3 482.4 221.7 479.5 223.3 475.0C224.9 470.5 227.5 465.4 231.3 460.0C235.1 454.6 239.8 449.6 246.3 442.5C252.8 435.4 262.3 425.0 270.3 417.5C278.3 410.0 286.3 403.8 294.3 397.5C302.3 391.2 310.3 385.4 318.3 380.0C326.3 374.6 334.5 369.6 342.3 365.0C350.1 360.4 357.3 356.2 365.3 352.5C373.3 348.8 382.0 345.2 390.3 342.5C398.6 339.8 404.5 337.7 415.3 336.0C426.1 334.3 442.0 332.5 455.3 332.5Z" fill="#b2dfdb"/>
<path d="M355.7 656.0 A104.5 100.5 0 0 1 554.9 656.0L555.6 661.6L520.2 697.0L518.2 695.0L455.3 757.9L392.4 695.0L390.4 697.0L355.0 661.6Z" fill="#fff"/>
<path d="M452.3 627.7Q455.3 625.2 458.3 627.7L504.2 665.2Q498.8 677.0 511.6 692.2L464.5 739.5 L446.1 739.5L399.0 692.2Q411.8 677.0 406.4 665.2Z" fill="#b2dfdb"/>
<circle cx="455.3" cy="753.5" r="16.2" fill="#fff"/>
<ellipse cx="454.8" cy="689" rx="10" ry="8.5" fill="#fff"/>
<path d="M450.8 688.6h7" stroke="#c4c4c4" stroke-width="1.2"/>
<path d="M455.3 754.7 L203.8 503.2 M455.3 754.7 L707.6 502.4" stroke="#c4c4c4" stroke-width="2" fill="none"/>
<path d="M455.3 615.8l3.6 3.6l-3.6 3.6l-3.6 -3.6z" fill="#c4c4c4"/>
<path d="M389.8 681.2l3.6 3.6l-3.6 3.6l-3.6 -3.6z" fill="#c4c4c4"/>
<path d="M520.8 681.2l3.6 3.6l-3.6 3.6l-3.6 -3.6z" fill="#c4c4c4"/>
<text x="377.0" y="311.5" textLength="41.3" lengthAdjust="spacingAndGlyphs" class="dl">410</text>
<text x="250.0" y="364.5" textLength="41.3" lengthAdjust="spacingAndGlyphs" class="dl">387</text>
<text x="622.0" y="367.5" textLength="41.3" lengthAdjust="spacingAndGlyphs" class="dl">387</text>
<text x="150.0" y="517.5" textLength="41.3" lengthAdjust="spacingAndGlyphs" class="dl">330</text>
<text x="712.0" y="517.5" textLength="40.5" lengthAdjust="spacingAndGlyphs" class="dl">330</text>
<g stroke="#000" stroke-width="1.3"><circle cx="464.8" cy="268.2" r="7.85" fill="#DC267F"/><circle cx="352.0" cy="304.5" r="7.85" fill="#DC267F"/><circle cx="210.6" cy="385.4" r="7.85" fill="#DC267F"/><circle cx="149.2" cy="407.1" r="7.85" fill="#DC267F"/><circle cx="669.0" cy="420.5" r="7.85" fill="#DC267F"/><circle cx="722.6" cy="442.2" r="7.85" fill="#DC267F"/><circle cx="468.6" cy="312.7" r="7.85" fill="#FFB000"/><circle cx="595.6" cy="340.0" r="7.85" fill="#FFB000"/><circle cx="350.2" cy="352.2" r="7.85" fill="#C0C0C0"/><circle cx="480.9" cy="389.4" r="7.85" fill="#C0C0C0"/><circle cx="500.9" cy="397.2" r="7.85" fill="#C0C0C0"/><circle cx="641.0" cy="390.0" r="7.85" fill="#C0C0C0"/><circle cx="613.8" cy="412.5" r="7.85" fill="#C0C0C0"/><circle cx="597.0" cy="422.0" r="7.85" fill="#C0C0C0"/><circle cx="294.0" cy="419.5" r="7.85" fill="#C0C0C0"/><circle cx="329.5" cy="417.4" r="7.85" fill="#785EF0"/><circle cx="289.0" cy="434.3" r="7.85" fill="#C0C0C0"/><circle cx="332.4" cy="447.2" r="7.85" fill="#C0C0C0"/><circle cx="432.2" cy="447.2" r="7.85" fill="#C0C0C0"/><circle cx="477.2" cy="443.6" r="7.85" fill="#C0C0C0"/><circle cx="539.6" cy="446.0" r="7.85" fill="#C0C0C0"/><circle cx="445.5" cy="461.0" r="7.85" fill="#C0C0C0"/><circle cx="246.0" cy="459.8" r="7.85" fill="#C0C0C0"/><circle cx="244.5" cy="475.9" r="7.85" fill="#C0C0C0"/><circle cx="397.0" cy="475.0" r="7.85" fill="#C0C0C0"/><circle cx="535.0" cy="475.0" r="7.85" fill="#FE6100"/><circle cx="671.0" cy="468.5" r="7.85" fill="#C0C0C0"/><circle cx="423.4" cy="499.3" r="7.85" fill="#C0C0C0"/><circle cx="215.0" cy="506.3" r="7.85" fill="#785EF0"/><circle cx="275.0" cy="519.0" r="7.85" fill="#C0C0C0"/><circle cx="317.4" cy="511.2" r="7.85" fill="#C0C0C0"/><circle cx="608.0" cy="509.0" r="7.85" fill="#C0C0C0"/><circle cx="516.5" cy="520.3" r="7.85" fill="#FE6100"/><circle cx="482.0" cy="530.8" r="7.85" fill="#C0C0C0"/><circle cx="569.7" cy="530.0" r="7.85" fill="#FE6100"/><circle cx="307.0" cy="539.5" r="7.85" fill="#FE6100"/><circle cx="309.0" cy="555.3" r="7.85" fill="#FE6100"/><circle cx="269.4" cy="558.5" r="7.85" fill="#785EF0"/><circle cx="364.0" cy="551.0" r="7.85" fill="#FE6100"/><circle cx="388.0" cy="546.5" r="7.85" fill="#FE6100"/><circle cx="446.5" cy="548.0" r="7.85" fill="#C0C0C0"/><circle cx="444.0" cy="546.0" r="7.85" fill="#C0C0C0"/><circle cx="527.0" cy="553.0" r="7.85" fill="#FE6100"/><circle cx="567.0" cy="546.5" r="7.85" fill="#FE6100"/><circle cx="651.6" cy="539.0" r="7.85" fill="#C0C0C0"/><circle cx="624.0" cy="557.0" r="7.85" fill="#C0C0C0"/><circle cx="618.0" cy="551.5" r="7.85" fill="#C0C0C0"/><circle cx="627.5" cy="545.0" r="7.85" fill="#C0C0C0"/><circle cx="375.5" cy="570.7" r="7.85" fill="#C0C0C0"/><circle cx="571.8" cy="571.8" r="7.85" fill="#C0C0C0"/><circle cx="613.0" cy="579.5" r="7.85" fill="#FE6100"/><circle cx="504.0" cy="579.5" r="7.85" fill="#C0C0C0"/><circle cx="532.6" cy="582.6" r="7.85" fill="#C0C0C0"/><circle cx="545.0" cy="596.0" r="7.85" fill="#C0C0C0"/><circle cx="427.0" cy="580.0" r="7.85" fill="#C0C0C0"/><circle cx="484.0" cy="590.0" r="7.85" fill="#FFFFFF"/><circle cx="456.0" cy="585.0" r="7.85" fill="#FE6100"/><circle cx="467.5" cy="589.0" r="7.85" fill="#FE6100"/><circle cx="480.0" cy="587.5" r="7.85" fill="#FE6100"/><circle cx="473.0" cy="593.0" r="7.85" fill="#FE6100"/><circle cx="431.0" cy="590.0" r="7.85" fill="#FE6100"/><circle cx="417.0" cy="599.0" r="7.85" fill="#FE6100"/><circle cx="421.0" cy="594.5" r="7.85" fill="#C0C0C0"/><circle cx="437.8" cy="592.8" r="7.85" fill="#C0C0C0"/><circle cx="451.8" cy="592.4" r="7.85" fill="#C0C0C0"/><circle cx="479.0" cy="594.0" r="7.85" fill="#C0C0C0"/><circle cx="461.0" cy="602.0" r="7.85" fill="#C0C0C0"/><circle cx="495.5" cy="599.8" r="7.85" fill="#C0C0C0"/><circle cx="497.0" cy="604.0" r="7.85" fill="#C0C0C0"/><circle cx="426.0" cy="608.5" r="7.85" fill="#C0C0C0"/><circle cx="422.0" cy="599.8" r="7.85" fill="#C0C0C0"/><circle cx="378.0" cy="607.8" r="7.85" fill="#FE6100"/><circle cx="383.5" cy="604.0" r="7.85" fill="#FE6100"/><circle cx="391.5" cy="605.0" r="7.85" fill="#FE6100"/><circle cx="396.0" cy="619.0" r="7.85" fill="#C0C0C0"/><circle cx="384.0" cy="615.5" r="7.85" fill="#C0C0C0"/><circle cx="404.5" cy="622.5" r="7.85" fill="#C0C0C0"/><circle cx="397.0" cy="631.0" r="7.85" fill="#C0C0C0"/><circle cx="421.0" cy="631.0" r="7.85" fill="#C0C0C0"/><circle cx="429.0" cy="642.0" r="7.85" fill="#C0C0C0"/><circle cx="372.0" cy="641.4" r="7.85" fill="#C0C0C0"/><circle cx="382.0" cy="638.0" r="7.85" fill="#FE6100"/><circle cx="376.5" cy="648.8" r="7.85" fill="#C0C0C0"/><circle cx="383.5" cy="647.0" r="7.85" fill="#C0C0C0"/><circle cx="379.0" cy="654.0" r="7.85" fill="#C0C0C0"/><circle cx="387.0" cy="661.0" r="7.85" fill="#C0C0C0"/><circle cx="380.0" cy="661.7" r="7.85" fill="#C0C0C0"/><circle cx="371.0" cy="664.5" r="7.85" fill="#C0C0C0"/><circle cx="376.5" cy="674.0" r="7.85" fill="#785EF0"/><circle cx="376.5" cy="667.3" r="7.85" fill="#C0C0C0"/><circle cx="471.7" cy="633.7" r="7.85" fill="#FE6100"/><circle cx="501.0" cy="639.3" r="7.85" fill="#FFFFFF"/><circle cx="517.0" cy="639.0" r="7.85" fill="#C0C0C0"/><circle cx="523.5" cy="650.0" r="7.85" fill="#C0C0C0"/><circle cx="522.8" cy="655.0" r="7.85" fill="#C0C0C0"/><circle cx="537.5" cy="662.8" r="7.85" fill="#C0C0C0"/><circle cx="566.0" cy="642.8" r="7.85" fill="#FE6100"/><circle cx="463.0" cy="681.3" r="7.85" fill="#C0C0C0"/><circle cx="528.0" cy="697.0" r="7.85" fill="#C0C0C0"/><circle cx="449.0" cy="715.0" r="7.85" fill="#C0C0C0"/><circle cx="537.5" cy="730.7" r="7.85" fill="#C0C0C0"/><circle cx="458.8" cy="753.8" r="7.85" fill="#C0C0C0"/><circle cx="496.0" cy="779.3" r="7.85" fill="#C0C0C0"/></g>
<circle cx="794.3" cy="266.3" r="9.9" fill="#FE6100" stroke="#000" stroke-width="1.3"/>
<text x="813" y="273.3" class="lg">SINGLE</text>
<circle cx="794.3" cy="313.1" r="9.9" fill="#785EF0" stroke="#000" stroke-width="1.3"/>
<text x="813" y="320.1" class="lg">DOUBLE</text>
<circle cx="794.3" cy="359.9" r="9.9" fill="#FFB000" stroke="#000" stroke-width="1.3"/>
<text x="813" y="366.9" class="lg">TRIPLE</text>
<circle cx="794.3" cy="406.8" r="9.9" fill="#DC267F" stroke="#000" stroke-width="1.3"/>
<text x="813" y="413.8" class="lg">HOME RUN</text>
<circle cx="794.3" cy="453.6" r="9.9" fill="#C0C0C0" stroke="#000" stroke-width="1.3"/>
<text x="813" y="460.6" class="lg">FIELD OUT</text>
<circle cx="794.3" cy="500.4" r="9.9" fill="#C0C0C0" stroke="#000" stroke-width="1.3"/>
<text x="813" y="507.4" class="lg">FIELD OUT</text>
<circle cx="794.3" cy="547.2" r="9.9" fill="#C0C0C0" stroke="#000" stroke-width="1.3"/>
<text x="813" y="554.2" class="lg">GIDP</text>
<circle cx="794.3" cy="594.0" r="9.9" fill="#FFFFFF" stroke="#000" stroke-width="1.3"/>
<text x="813" y="601.0" class="lg">ERROR</text>
<circle cx="794.3" cy="640.9" r="9.9" fill="#C0C0C0" stroke="#000" stroke-width="1.3"/>
<text x="813" y="647.9" class="lg">DOUBLE PLAY</text>
<text x="25" y="970.3" class="sav">SAVANT</text>
<text x="975.5" y="970.3" class="src" text-anchor="end">SOURCE: MLB.COM</text>
</svg>
</div>
</body></html>
